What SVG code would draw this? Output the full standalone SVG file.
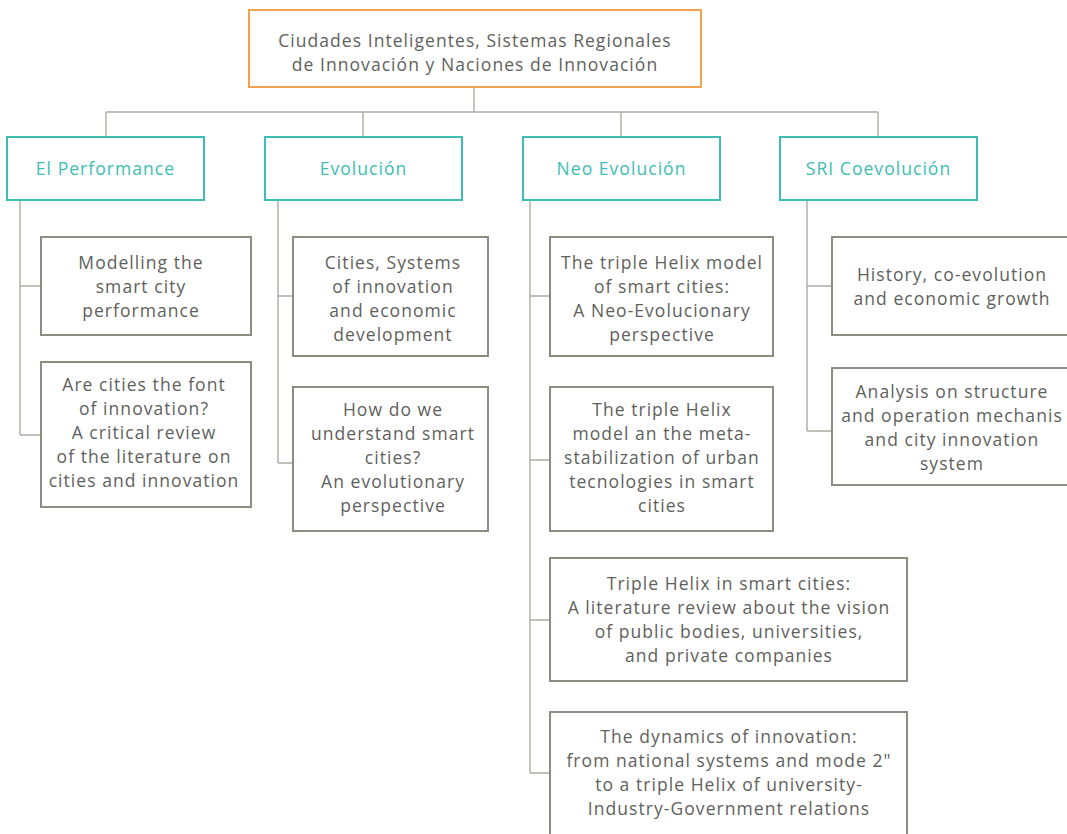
<svg xmlns="http://www.w3.org/2000/svg" width="1067" height="834" viewBox="0 0 1067 834">
<style>
text{font-family:"Open Sans","Liberation Sans",sans-serif;font-size:17.5px;letter-spacing:1.05px;fill:#5f5f5c;text-anchor:middle}
.root{fill:#fff;stroke:#F0A24E;stroke-width:2}
.cat{fill:#fff;stroke:#3DBDB3;stroke-width:2}
.ct{fill:#3DBDB3}
.leaf{fill:#fff;stroke:#8E8B80;stroke-width:2}
.con{fill:none;stroke:#AEABA2;stroke-width:1.4}
</style>
<rect width="1067" height="834" fill="#fff"/>
<g id="connectors">
<path class="con" d="M474 88V112M106 112H878M106 112V137M363 112V137M621 112V137M878 112V137"/>
<path class="con" d="M20 200V435M20 286H41M20 435H41"/>
<path class="con" d="M278 200V463M278 296H293M278 463H293"/>
<path class="con" d="M530 200V773M530 296H550M530 460H550M530 620H550M530 773H550"/>
<path class="con" d="M807 200V431M807 286H832M807 431H832"/>
</g>
<g id="root"><rect class="root" x="249" y="10" width="452" height="77"/>
<text x="475" y="47">Ciudades Inteligentes, Sistemas Regionales</text>
<text x="475" y="71">de Innovación y Naciones de Innovación</text></g>
<g id="cat1"><rect class="cat" x="7" y="137" width="197" height="63"/><text class="ct" x="105.5" y="175">El Performance</text></g>
<g id="cat2"><rect class="cat" x="265" y="137" width="197" height="63"/><text class="ct" x="363.5" y="175">Evolución</text></g>
<g id="cat3"><rect class="cat" x="523" y="137" width="197" height="63"/><text class="ct" x="621.5" y="175">Neo Evolución</text></g>
<g id="cat4"><rect class="cat" x="780" y="137" width="197" height="63"/><text class="ct" x="878.5" y="175">SRI Coevolución</text></g>
<g id="p1"><rect class="leaf" x="41" y="237" width="210" height="98"/>
<text x="141" y="269">Modelling the</text><text x="141" y="293">smart city</text><text x="141" y="317">performance</text></g>
<g id="p2"><rect class="leaf" x="41" y="362" width="210" height="145"/>
<text x="144" y="391">Are cities the font</text><text x="144" y="415">of innovation?</text><text x="144" y="439">A critical review</text><text x="144" y="463">of the literature on</text><text x="144" y="487">cities and innovation</text></g>
<g id="e1"><rect class="leaf" x="293" y="237" width="195" height="119"/>
<text x="393" y="269">Cities, Systems</text><text x="393" y="293">of innovation</text><text x="393" y="317">and economic</text><text x="393" y="341">development</text></g>
<g id="e2"><rect class="leaf" x="293" y="387" width="195" height="144"/>
<text x="393" y="416">How do we</text><text x="393" y="440">understand smart</text><text x="393" y="464">cities?</text><text x="393" y="488">An evolutionary</text><text x="393" y="512">perspective</text></g>
<g id="n1"><rect class="leaf" x="550" y="237" width="223" height="119"/>
<text x="662" y="269">The triple Helix model</text><text x="662" y="293">of smart cities:</text><text x="662" y="317">A Neo-Evolucionary</text><text x="662" y="341">perspective</text></g>
<g id="n2"><rect class="leaf" x="550" y="387" width="223" height="144"/>
<text x="662" y="416">The triple Helix</text><text x="662" y="440">model an the meta-</text><text x="662" y="464">stabilization of urban</text><text x="662" y="488">tecnologies in smart</text><text x="662" y="512">cities</text></g>
<g id="n3"><rect class="leaf" x="550" y="558" width="357" height="123"/>
<text x="729" y="590">Triple Helix in smart cities:</text><text x="729" y="614">A literature review about the vision</text><text x="729" y="638">of public bodies, universities,</text><text x="729" y="662">and private companies</text></g>
<g id="n4"><rect class="leaf" x="550" y="712" width="357" height="130"/>
<text x="729" y="743">The dynamics of innovation:</text><text x="729" y="767">from national systems and mode 2"</text><text x="729" y="791">to a triple Helix of university-</text><text x="729" y="815">Industry-Government relations</text></g>
<g id="s1"><rect class="leaf" x="832" y="237" width="245" height="98"/>
<text x="952" y="281">History, co-evolution</text><text x="952" y="305">and economic growth</text></g>
<g id="s2"><rect class="leaf" x="832" y="368" width="245" height="117"/>
<text x="952" y="398">Analysis on structure</text><text x="952" y="422">and operation mechanis</text><text x="952" y="446">and city innovation</text><text x="952" y="470">system</text></g>
</svg>
